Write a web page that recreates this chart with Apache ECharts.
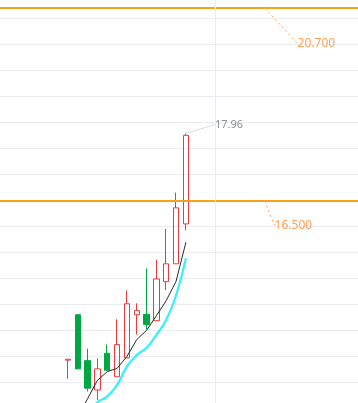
<!DOCTYPE html>
<html>
<head>
<meta charset="utf-8">
<script src="https://cdn.jsdelivr.net/npm/echarts@6/dist/echarts.min.js"></script>
<style>
html,body{margin:0;padding:0;background:#fff;}
#main{width:358px;height:403px;}
</style>
</head>
<body>
<div id="main"></div>
<script>
// ---- data ----
var categories = ['d01','d02','d03','d04','d05','d06','d07','d08','d09','d10','d11','d12',
  'd13','d14','d15','d16','d17','d18','d19','d20','d21','d22','d23','d24',
  'd25','d26','d27','d28','d29','d30','d31','d32','d33','d34','d35','d36'];
var firstCandle = 6;
var opens  = [13.02, 14.01, 13.01, 12.37, 13.17, 12.66, 13.07, 14.01, 14.02, 13.88, 14.73, 15.12, 15.99];
var closes = [13.04, 12.83, 12.41, 12.83, 12.80, 13.36, 14.25, 14.10, 13.80, 14.79, 15.12, 16.34, 17.92];
var lows   = [12.61, 12.83, 12.34, 12.15, 12.80, 12.66, 13.07, 13.58, 13.69, 13.88, 14.55, 15.12, 15.85];
var highs  = [13.04, 14.01, 13.27, 13.06, 13.36, 13.91, 14.54, 14.26, 15.02, 15.21, 15.88, 16.67, 17.96];
var maLine   = [11.51, 11.79, 12.18, 12.58, 12.77, 12.84, 13.10, 13.47, 13.67, 13.99, 14.32, 14.74, 15.59];
var cyanLine = [null, null, 11.90, 12.10, 12.23, 12.48, 12.88, 13.13, 13.29, 13.57, 13.90, 14.43, 15.24];
var levels = [20.7, 16.5];
var levelCategory = 26;
var markerCategory = 21;
var maxLabel = '17.96';
var yMin = 11.9667, yMax = 21.0333, yInterval = 0.56667;

// ---- build ----
function pad(arr) {
  var out = [];
  for (var i = 0; i < categories.length; i++) {
    var j = i - firstCandle;
    out.push(j >= 0 && j < arr.length && arr[j] != null ? arr[j] : '-');
  }
  return out;
}
var candleData = [];
for (var i = 0; i < categories.length; i++) {
  var j = i - firstCandle;
  if (j >= 0 && j < opens.length) candleData.push([opens[j], closes[j], lows[j], highs[j]]);
  else candleData.push(['-', '-', '-', '-']);
}
var maxIdx = 0;
for (var k = 1; k < highs.length; k++) if (highs[k] > highs[maxIdx]) maxIdx = k;

var levelOffsets = [[33, 36], [10, 25]];
var hiddenAxis = {axisLine: {show: false}, axisTick: {show: false}, axisLabel: {show: false}};

var chart = echarts.init(document.getElementById('main'), null, {renderer: 'canvas'});
chart.setOption({
  animation: false,
  backgroundColor: '#fff',
  grid: [
    {left: 4, right: 0, top: -7.5, bottom: -5.5, containLabel: false, outerBoundsMode: 'none'},
    {left: 0, right: 0, top: -7.5, bottom: -5.5, containLabel: false, outerBoundsMode: 'none', z: -1}
  ],
  xAxis: [
    Object.assign({type: 'category', data: categories, boundaryGap: true, gridIndex: 0, splitLine: {show: false}}, hiddenAxis),
    Object.assign({type: 'value', min: 0, max: 1, gridIndex: 1, splitLine: {show: false}}, hiddenAxis)
  ],
  yAxis: [
    Object.assign({type: 'value', scale: true, min: yMin, max: yMax, interval: yInterval, gridIndex: 0, splitLine: {show: false}}, hiddenAxis),
    Object.assign({type: 'value', scale: true, min: yMin, max: yMax, interval: yInterval, gridIndex: 1,
      splitLine: {show: true, lineStyle: {color: '#E9EDF2', width: 1}}}, hiddenAxis)
  ],
  series: [
    {
      type: 'line', xAxisIndex: 1, yAxisIndex: 1, data: [], symbol: 'none',
      markLine: {
        silent: true, symbol: 'none', animation: false,
        label: {show: false},
        lineStyle: {color: '#F9A11B', width: 2, type: 'solid'},
        data: levels.map(function (v) { return {yAxis: v}; })
      }
    },
    {
      type: 'candlestick', data: candleData, barWidth: 6,
      itemStyle: {
        color: 'rgba(255,255,255,0)', color0: '#00A843',
        borderColor: '#F03A3A', borderColor0: '#00A843', borderWidth: 1
      },
      markLine: {
        silent: true, symbol: 'none', animation: false,
        label: {show: false},
        data: [
          {xAxis: categories[markerCategory], lineStyle: {color: '#E9EDF2', width: 1, type: 'solid'}}
        ]
      }
    },
    {
      type: 'line', data: pad(maLine), symbol: 'none', smooth: false,
      lineStyle: {color: '#2B2B2B', width: 1}, z: 3
    },
    {
      type: 'line', data: pad(cyanLine), symbol: 'none', smooth: true,
      lineStyle: {color: '#33F0FF', width: 2.2}, z: 3
    },
    {
      type: 'scatter', symbolSize: 1,
      itemStyle: {color: 'rgba(0,0,0,0)'},
      data: levels.map(function (v) { return [categories[levelCategory], v]; }),
      label: {
        show: true, position: 'inside',
        formatter: function (p) { return p.value[1].toFixed(3); },
        color: '#FF8A2A', fontSize: 12, fontFamily: 'Noto Sans'
      },
      labelLayout: function (p) {
        var o = levelOffsets[p.dataIndex];
        return {x: p.rect.x + p.rect.width / 2 + o[0], y: p.rect.y + p.rect.height / 2 + o[1], align: 'left', verticalAlign: 'middle'};
      },
      labelLine: {show: true, lineStyle: {color: '#FFA24A', width: 1, type: [2, 3]}},
      z: 5
    },
    {
      type: 'scatter', symbolSize: 1,
      itemStyle: {color: 'rgba(0,0,0,0)'},
      data: [[categories[firstCandle + maxIdx], highs[maxIdx]]],
      label: {
        show: true, position: 'inside',
        formatter: maxLabel,
        color: '#6A7180', fontSize: 11, fontFamily: 'Noto Sans'
      },
      labelLayout: function (p) {
        return {x: p.rect.x + p.rect.width / 2 + 29, y: p.rect.y + p.rect.height / 2 - 9, align: 'left', verticalAlign: 'middle'};
      },
      labelLine: {show: true, lineStyle: {color: '#D6DCE5', width: 1}},
      z: 5
    }
  ]
});
</script>
</body>
</html>
